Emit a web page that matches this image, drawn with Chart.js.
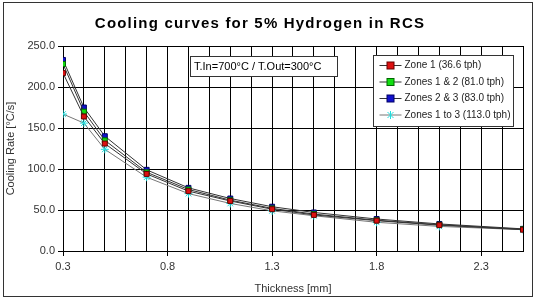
<!DOCTYPE html>
<html>
<head>
<meta charset="utf-8">
<script src="https://cdn.jsdelivr.net/npm/chart.js@4"></script>
<style>
  html, body { margin: 0; padding: 0; background: #fff; }
  #wrap { width: 537px; height: 303px; }
</style>
</head>
<body>
<div id="wrap"><canvas id="myChart" width="537" height="303"></canvas></div>
<script>
// thickness [mm]
var thickness = [0.3, 0.4, 0.5, 0.7, 0.9, 1.1, 1.3, 1.5, 1.8, 2.1, 2.5];
// cooling rate [°C/s]
var zone1 = [217, 164, 131, 94, 73, 61, 51, 44, 37, 31.5, 26];
var zones12 = [228, 170, 135, 96, 75, 62, 52, 45, 37.5, 32, 26.5];
var zones23 = [233, 175, 140, 99, 77, 64, 54, 47, 39, 33, 27];
var zones13 = [167, 156, 124, 90, 70, 58, 49, 43, 35, 30, 26];

var seriesNames = ['Zone 1 (36.6 tph)', 'Zones 1 & 2 (81.0 tph)', 'Zones 2 & 3 (83.0 tph)', 'Zones 1 to 3 (113.0 tph)'];
var xLabels = [0.3, 0.8, 1.3, 1.8, 2.3];
var yTicks = [0, 50, 100, 150, 200, 250];

function pts(ys) {
    return thickness.map(function (x, i) { return { x: x, y: ys[i] }; });
}

function isLabelled(v) {
    for (var i = 0; i < xLabels.length; i++) {
        if (Math.abs(v - xLabels[i]) < 1e-6) return true;
    }
    return false;
}

var styles = [
    { fill: '#dd1111', edge: '#660000', line: '#333', shape: 'rect', r: 3.5 },
    { fill: '#11dd11', edge: '#006600', line: '#333', shape: 'rect', r: 3.5 },
    { fill: '#1111cc', edge: '#000066', line: '#333', shape: 'rect', r: 3.5 },
    { fill: '#22dddd', edge: '#22dddd', line: '#777', shape: 'star', r: 4 }
];
var series = [zone1, zones12, zones23, zones13];

// frame, title, info box and legend
var decor = {
    id: 'decor',
    beforeDraw: function (chart) {
        var ctx = chart.ctx;
        ctx.save();
        ctx.fillStyle = '#fff';
        ctx.fillRect(0, 0, chart.width, chart.height);
        ctx.strokeStyle = '#333';
        ctx.lineWidth = 1;
        ctx.strokeRect(3.5, 2.5, 529, 294);
        ctx.restore();
    },
    afterDraw: function (chart) {
        var ctx = chart.ctx;
        ctx.save();
        // title
        ctx.fillStyle = '#000';
        ctx.font = 'bold 15px Arial, "Liberation Sans", sans-serif';
        ctx.letterSpacing = '1.2px';
        ctx.textAlign = 'center';
        ctx.textBaseline = 'middle';
        ctx.fillText('Cooling curves for 5% Hydrogen in RCS', 260, 24);
        ctx.letterSpacing = '0px';

        // info box
        ctx.font = '11px Arial, "Liberation Sans", sans-serif';
        ctx.fillStyle = '#fff';
        ctx.fillRect(190.5, 56.5, 147, 20);
        ctx.strokeStyle = '#333';
        ctx.strokeRect(190.5, 56.5, 147, 20);
        ctx.fillStyle = '#000';
        ctx.textAlign = 'left';
        ctx.fillText('T.In=700°C / T.Out=300°C', 194, 67);

        // legend
        var lx = 373.5, ly = 55.5, lw = 140, lh = 71;
        ctx.fillStyle = '#fff';
        ctx.fillRect(lx, ly, lw, lh);
        ctx.strokeStyle = '#333';
        ctx.strokeRect(lx, ly, lw, lh);
        ctx.font = '10px Arial, "Liberation Sans", sans-serif';
        for (var i = 0; i < seriesNames.length; i++) {
            var cy = ly + 10 + i * 16.5;
            var st = styles[i];
            ctx.strokeStyle = st.line;
            ctx.lineWidth = 1;
            ctx.beginPath();
            ctx.moveTo(lx + 6, cy);
            ctx.lineTo(lx + 28, cy);
            ctx.stroke();
            if (st.shape === 'rect') {
                ctx.fillStyle = st.fill;
                ctx.fillRect(lx + 13.5, cy - 3.5, 7, 7);
                ctx.strokeStyle = st.edge;
                ctx.strokeRect(lx + 13.5, cy - 3.5, 7, 7);
            } else {
                ctx.strokeStyle = st.fill;
                ctx.beginPath();
                ctx.moveTo(lx + 14, cy - 3); ctx.lineTo(lx + 20, cy + 3);
                ctx.moveTo(lx + 20, cy - 3); ctx.lineTo(lx + 14, cy + 3);
                ctx.moveTo(lx + 17, cy - 4); ctx.lineTo(lx + 17, cy + 4);
                ctx.stroke();
            }
            ctx.fillStyle = '#222';
            ctx.textBaseline = 'middle';
            ctx.fillText(seriesNames[i], lx + 31, cy);
        }
        ctx.restore();
    }
};

const data = {
    datasets: series.map(function (s, i) {
        var st = styles[i];
        return {
            label: seriesNames[i],
            data: pts(s),
            showLine: true,
            borderColor: st.line,
            borderWidth: 1,
            pointStyle: st.shape,
            pointRadius: st.r,
            pointBackgroundColor: st.fill,
            pointBorderColor: st.edge,
            pointBorderWidth: 1,
            tension: 0
        };
    })
};

const config = {
    type: 'scatter',
    data,
    options: {
        responsive: false,
        animation: false,
        layout: { padding: { left: 4, right: 14, top: 46, bottom: 7 } },
        plugins: {
            legend: { display: false },
            title: { display: false },
            tooltip: { enabled: false }
        },
        scales: {
            x: {
                type: 'linear',
                min: 0.3,
                max: 2.5,
                afterBuildTicks: function (scale) {
                    var t = [];
                    for (var i = 0; i <= 22; i++) t.push({ value: Math.round((0.3 + i * 0.1) * 10) / 10 });
                    scale.ticks = t;
                },
                afterFit: function (scale) { scale.height = 45; },
                grid: {
                    color: '#000',
                    lineWidth: 1,
                    tickLength: 5,
                    tickColor: function (c) { return isLabelled(c.tick.value) ? '#000' : 'rgba(0,0,0,0)'; }
                },
                border: { color: '#000' },
                ticks: {
                    autoSkip: false,
                    maxRotation: 0,
                    color: '#333',
                    font: { family: 'Arial, "Liberation Sans", sans-serif', size: 11 },
                    padding: 4,
                    callback: function (v) { return isLabelled(v) ? v.toFixed(1) : ''; }
                },
                title: {
                    display: true,
                    text: 'Thickness [mm]',
                    color: '#333',
                    font: { family: 'Arial, "Liberation Sans", sans-serif', size: 11 },
                    padding: { top: 2, bottom: 0 }
                }
            },
            y: {
                min: 0,
                max: 250,
                afterBuildTicks: function (scale) {
                    scale.ticks = yTicks.map(function (v) { return { value: v }; });
                },
                afterFit: function (scale) { scale.width = 59; },
                grid: { color: '#000', lineWidth: 1, tickLength: 5, tickColor: '#000' },
                border: { color: '#000' },
                ticks: {
                    color: '#333',
                    font: { family: 'Arial, "Liberation Sans", sans-serif', size: 11 },
                    padding: 3,
                    callback: function (v) { return v.toFixed(1); }
                },
                title: {
                    display: true,
                    text: 'Cooling Rate [°C/s]',
                    color: '#333',
                    font: { family: 'Arial, "Liberation Sans", sans-serif', size: 11 },
                    padding: { top: 0, bottom: 0 }
                }
            }
        }
    },
    plugins: [decor]
};

const myChart = new Chart(document.getElementById('myChart'), config);
</script>
</body>
</html>
